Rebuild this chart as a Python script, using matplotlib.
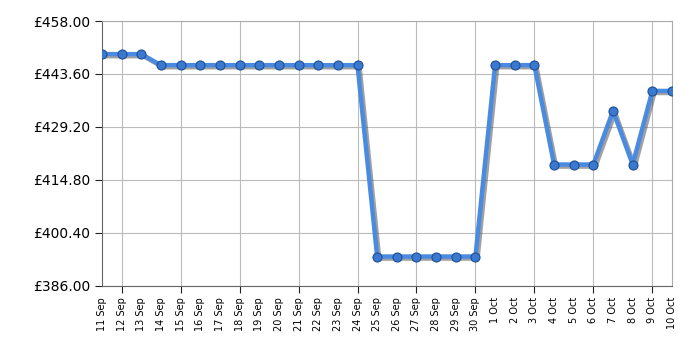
import matplotlib
matplotlib.use("Agg")
import matplotlib.pyplot as plt
import matplotlib.patheffects as pe
import numpy as np

# Data
dates = ["11 Sep", "12 Sep", "13 Sep", "14 Sep", "15 Sep", "16 Sep", "17 Sep", "18 Sep",
         "19 Sep", "20 Sep", "21 Sep", "22 Sep", "23 Sep", "24 Sep", "25 Sep", "26 Sep",
         "27 Sep", "28 Sep", "29 Sep", "30 Sep", "1 Oct", "2 Oct", "3 Oct", "4 Oct",
         "5 Oct", "6 Oct", "7 Oct", "8 Oct", "9 Oct", "10 Oct"]
prices = [449, 449, 449, 446, 446, 446, 446, 446, 446, 446, 446, 446, 446, 446,
          394, 394, 394, 394, 394, 394, 446, 446, 446, 419, 419, 419, 433.6, 419,
          439, 439]
yticks = [386.0, 400.4, 414.8, 429.2, 443.6, 458.0]

fig = plt.figure(figsize=(7, 3.5), dpi=100)
ax = fig.add_axes([0.1457, 0.183, 0.8143, 0.757])

x = np.arange(len(dates))
ax.plot(x, prices, color="#4a8ae0", lw=3.2, zorder=3,
        path_effects=[pe.SimpleLineShadow(offset=(1.5, -1.5), shadow_color="#444444", alpha=0.5),
                      pe.Normal()])
ax.plot(x, prices, ls="none", marker="o", ms=6.5, mfc="#3b78d0", mec="#1d4f95", mew=0.8, zorder=4)

ax.set_xlim(0, len(dates) - 1)
ax.set_ylim(386, 458)
ax.set_yticks(yticks)
ax.set_yticklabels([f"£{v:.2f}" for v in yticks], fontsize=10)
ax.set_xticks(x)
ax.set_xticklabels(dates, rotation=90, fontsize=7)

ax.tick_params(axis="x", length=5, color="#222222", pad=3)
ax.tick_params(axis="y", length=5, color="#222222")

ax.grid(True, color="#bbbbbb", lw=0.8)
ax.set_axisbelow(True)

# tick mark and grid line only every third day
for i, t in enumerate(ax.xaxis.get_major_ticks()):
    if i % 3 != 1:
        t.tick1line.set_visible(False)
        t.gridline.set_visible(False)

for s in ax.spines.values():
    s.set_color("#aaaaaa")
ax.spines["left"].set_color("#666666")
ax.spines["bottom"].set_color("#666666")

fig.savefig("out.png", dpi=100)
